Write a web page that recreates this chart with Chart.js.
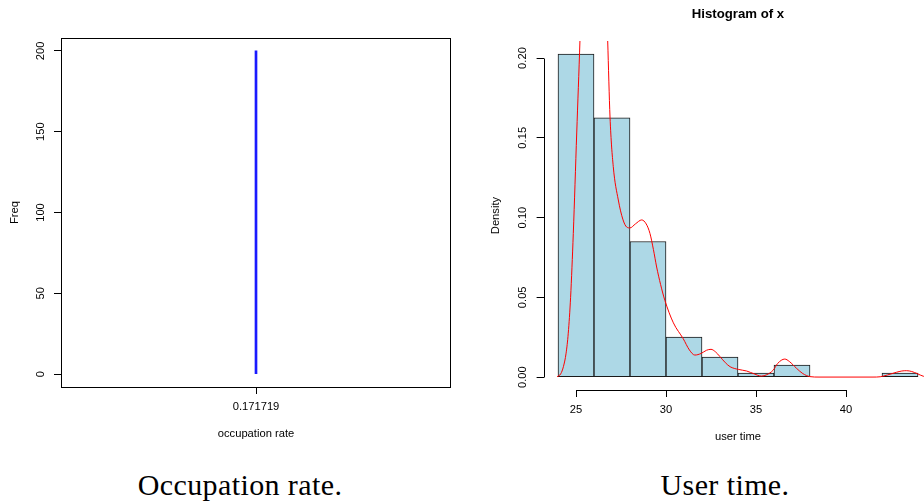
<!DOCTYPE html>
<html>
<head>
<meta charset="utf-8">
<script src="https://cdn.jsdelivr.net/npm/chart.js@4.4.1/dist/chart.umd.min.js"></script>
<style>
html,body{margin:0;padding:0;background:#fff;overflow:hidden;width:924px;height:504px;position:relative}
#w1{position:absolute;left:0;top:0;width:470px;height:450px}
#w2{position:absolute;left:470px;top:0;width:470px;height:450px}
canvas{display:block}
.cap{position:absolute;top:470px;font-family:"Liberation Serif","Times New Roman",serif;font-size:30px;line-height:30px;color:#000;white-space:nowrap;transform:translateX(-50%);letter-spacing:0.4px}
</style>
</head>
<body>
<div id="w1"><canvas id="c1" width="470" height="450" style="width:470px;height:450px"></canvas></div>
<div id="w2"><canvas id="c2" width="470" height="450" style="width:470px;height:450px"></canvas></div>
<div class="cap" style="left:240px">Occupation rate.</div>
<div class="cap" style="left:725px">User time.</div>
<script>
// ---- data ----
const occLabels = ['0.171719'];
const occFreq = [200];
const freqTicks = [0, 50, 100, 150, 200];

const histTitle = 'Histogram of x';
const binMids = [25, 27, 29, 31, 33, 35, 37, 39, 41, 43];
const binDensity = [0.2025, 0.1625, 0.085, 0.025, 0.0125, 0.0025, 0.0075, 0, 0, 0.0025];
const userTimeTicks = [25, 30, 35, 40];
const densityTicks = [0, 0.05, 0.10, 0.15, 0.20];

const densX = [23.95, 24.15, 24.3, 24.45, 24.57, 24.7, 24.85, 25.04, 25.22, 25.45, 25.8, 26.1, 26.4, 26.65, 26.76, 26.89, 27.07, 27.35, 27.6, 27.82, 28.0, 28.3, 28.65, 28.9, 29.11, 29.3, 29.48, 29.7, 29.94, 30.41, 30.96, 31.3, 31.6, 31.95, 32.25, 32.5, 32.75, 33.0, 33.3, 33.56, 34.02, 34.48, 34.9, 35.3, 35.6, 35.96, 36.2, 36.6, 36.85, 37.26, 37.6, 38.0, 38.5, 39.5, 40.5, 41.5, 41.9, 42.3, 42.8, 43.1, 43.37, 43.65, 43.95, 44.3, 44.7];
const densY = [0.0002, 0.002, 0.0065, 0.015, 0.0275, 0.05, 0.09, 0.153, 0.211, 0.30, 0.37, 0.38, 0.33, 0.25, 0.211, 0.163, 0.132, 0.111, 0.099, 0.094, 0.0935, 0.096, 0.0985, 0.096, 0.090, 0.080, 0.069, 0.058, 0.048, 0.034, 0.024, 0.017, 0.0138, 0.0148, 0.0168, 0.0174, 0.0158, 0.0128, 0.009, 0.0065, 0.0048, 0.0038, 0.002, 0.0006, 0.0015, 0.0044, 0.0085, 0.0113, 0.0098, 0.0054, 0.0022, 0.0003, 0, 0, 0, 0, 0.0002, 0.0013, 0.003, 0.0038, 0.004, 0.0035, 0.0022, 0.0005, 0.0001];

const AXIS_FONT = {family: '"Liberation Sans", Arial, sans-serif', size: 11.2, lineHeight: 1.2};

const boxPlugin = {
  id: 'rbox',
  afterDraw(chart) {
    const a = chart.chartArea, ctx = chart.ctx;
    ctx.save();
    ctx.strokeStyle = '#000'; ctx.lineWidth = 1;
    ctx.strokeRect(Math.round(a.left) + 0.5, Math.round(a.top) + 0.5, Math.round(a.right - a.left) - 1, Math.round(a.bottom - a.top));
    ctx.restore();
  }
};

const rAxesPlugin = {
  id: 'raxes',
  afterDraw(chart) {
    const ctx = chart.ctx, a = chart.chartArea;
    const xs = chart.scales.x, ys = chart.scales.y;
    ctx.save();
    ctx.strokeStyle = '#000'; ctx.lineWidth = 1;
    const x0 = Math.round(xs.getPixelForValue(userTimeTicks[0])) + 0.5;
    const x1 = Math.round(xs.getPixelForValue(userTimeTicks[userTimeTicks.length - 1])) + 0.5;
    const yb = Math.round(a.bottom) + 0.5;
    ctx.beginPath(); ctx.moveTo(x0, yb); ctx.lineTo(x1, yb); ctx.stroke();
    const y0 = Math.round(ys.getPixelForValue(densityTicks[0])) + 0.5;
    const y1 = Math.round(ys.getPixelForValue(densityTicks[densityTicks.length - 1])) + 0.5;
    const xl = Math.round(a.left) + 0.5;
    ctx.beginPath(); ctx.moveTo(xl, y0); ctx.lineTo(xl, y1); ctx.stroke();
    ctx.font = 'bold 13.2px "Liberation Sans", Arial, sans-serif';
    ctx.fillStyle = '#000'; ctx.textAlign = 'center'; ctx.textBaseline = 'middle';
    ctx.fillText(histTitle, (a.left + a.right) / 2, 14.7);
    ctx.restore();
  }
};

// ---- left chart ----
new Chart(document.getElementById('c1'), {
  type: 'bar',
  data: {
    labels: occLabels,
    datasets: [{data: occFreq, backgroundColor: '#1a1aff', borderWidth: 0, barThickness: 2}]
  },
  options: {
    responsive: false, animation: false, maintainAspectRatio: false,
    layout: {padding: {top: 38, right: 19, left: 0, bottom: 0}},
    plugins: {legend: {display: false}, tooltip: {enabled: false}},
    scales: {
      x: {
        offset: true,
        grid: {display: true, drawOnChartArea: false, offset: false, drawTicks: true, tickLength: 7, color: '#000', lineWidth: 1},
        border: {display: false},
        ticks: {font: AXIS_FONT, color: '#000', padding: 6, maxRotation: 0, minRotation: 0},
        title: {display: true, text: 'occupation rate', font: AXIS_FONT, color: '#000', padding: {top: 0, bottom: 9.3}},
        afterFit(s) { s.height = 63; }
      },
      y: {
        min: -8, max: 208,
        afterBuildTicks(s) { s.ticks = freqTicks.map(v => ({value: v})); },
        grid: {display: true, drawOnChartArea: false, drawTicks: true, tickLength: 7, color: '#000', lineWidth: 1},
        border: {display: false},
        ticks: {font: AXIS_FONT, color: '#000', padding: 4, minRotation: 90, maxRotation: 90, crossAlign: 'center', callback: v => String(v)},
        title: {display: true, text: 'Freq', font: AXIS_FONT, color: '#000', padding: {top: 8.3, bottom: 0}},
        afterFit(s) { s.width = 61; }
      }
    }
  },
  plugins: [boxPlugin]
});

// ---- right chart ----
new Chart(document.getElementById('c2'), {
  type: 'bar',
  data: {
    datasets: [
      {
        type: 'line',
        data: densX.map((x, i) => ({x: x, y: densY[i]})),
        borderColor: '#ff0000', borderWidth: 1, pointRadius: 0, fill: false,
        cubicInterpolationMode: 'monotone', order: 0
      },
      {
        type: 'bar',
        data: binMids.map((x, i) => ({x: x, y: binDensity[i]})),
        backgroundColor: '#add8e6', borderColor: '#1a1a1a', borderWidth: 1, borderSkipped: false,
        barPercentage: 1, categoryPercentage: 1, order: 1
      }
    ]
  },
  options: {
    responsive: false, animation: false, maintainAspectRatio: false,
    layout: {padding: {top: 41.1, right: 7.6, left: 0, bottom: 0}},
    plugins: {legend: {display: false}, tooltip: {enabled: false}},
    scales: {
      x: {
        type: 'linear', min: 23.2, max: 44.8, offset: false,
        afterBuildTicks(s) { s.ticks = userTimeTicks.map(v => ({value: v})); },
        grid: {display: true, drawOnChartArea: false, offset: false, drawTicks: true, tickLength: 7, color: '#000', lineWidth: 1},
        border: {display: false},
        ticks: {font: AXIS_FONT, color: '#000', padding: 6, maxRotation: 0, minRotation: 0, callback: v => String(v)},
        title: {display: true, text: 'user time', font: AXIS_FONT, color: '#000', padding: {top: 0, bottom: 6}},
        afterFit(s) { s.height = 60; }
      },
      y: {
        min: -0.0081, max: 0.2106,
        afterBuildTicks(s) { s.ticks = densityTicks.map(v => ({value: v})); },
        grid: {display: true, drawOnChartArea: false, drawTicks: true, tickLength: 7, color: '#000', lineWidth: 1},
        border: {display: false},
        ticks: {font: AXIS_FONT, color: '#000', padding: 2.4, minRotation: 90, maxRotation: 90, crossAlign: 'center', callback: v => Number(v).toFixed(2)},
        title: {display: true, text: 'Density', font: AXIS_FONT, color: '#000', padding: {top: 19.3, bottom: 0}},
        afterFit(s) { s.width = 73.6; }
      }
    }
  },
  plugins: [rAxesPlugin]
});
</script>
</body>
</html>
